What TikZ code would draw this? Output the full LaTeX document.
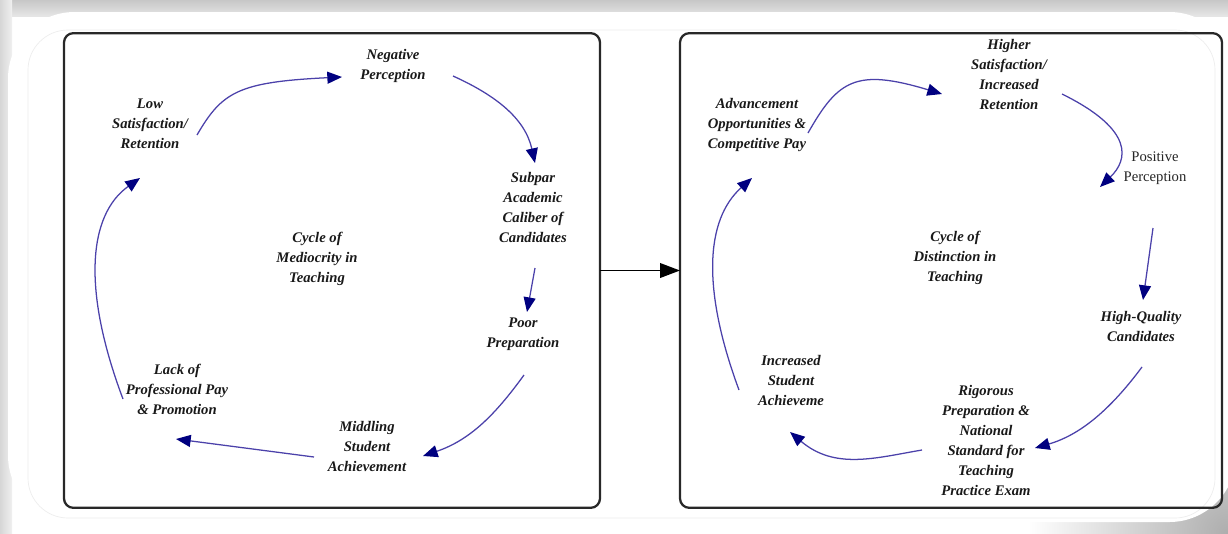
\documentclass[tikz,border=0pt]{standalone}
\usepackage{fontspec}
\setmainfont{Liberation Serif}
\usetikzlibrary{arrows.meta}
\definecolor{cycline}{RGB}{75,65,170}
\definecolor{cychead}{RGB}{0,0,128}
\definecolor{boxline}{RGB}{40,40,40}
\tikzset{
  lbl/.style={font=\bfseries\itshape\fontsize{11}{15}\selectfont, align=center, text=black!90, inner sep=1pt},
  plainlbl/.style={font=\fontsize{11}{15}\selectfont, align=center, text=black!85, inner sep=1pt},
  cyc/.style={draw=cycline, line width=0.95pt, -{Triangle[length=11pt,width=9pt,fill=cychead,color=cychead]}},
  panel/.style={draw=boxline, line width=1.7pt, rounded corners=7pt, inner sep=0pt, outer sep=0pt, minimum width=#1, minimum height=356pt},
}
\begin{document}
\begin{tikzpicture}[x=0.75pt,y=-0.75pt]
\useasboundingbox (0,0) rectangle (1228,533);
% background and frame
\fill[white] (0,0) rectangle (1228,533);
\begin{scope}
\clip (0,0) rectangle (1228,533);
\shade[inner color=black!32, outer color=white] (1228,533) circle (150pt);
\end{scope}
\shade[top color=black!22, bottom color=black!10] (0,0) rectangle (1228,16);
\shade[left color=black!16, right color=black!6] (0,0) rectangle (12,533);
\fill[white, rounded corners=50pt] (8,12) rectangle (1236,522);
\draw[black!7, line width=0.5pt, rounded corners=30pt] (28,30) rectangle (1215,518);
% boxes
\node[panel=402pt] (lbox) at (332,270.5) {};
\node[panel=406.5pt] (rbox) at (951,270.5) {};
\draw[black, line width=1.3pt, -{Triangle[length=15pt,width=11pt]}] (lbox.east) -- (rbox.west);
% left cycle
\node[lbl] (neg) at (393,66) {Negative\\Perception};
\node[lbl] (low) at (150,124) {Low\\Satisfaction/\\Retention};
\node[lbl] (sub) at (533,207) {Subpar\\Academic\\Caliber of\\Candidates};
\node[lbl] (cm) at (317,259) {Cycle of\\Mediocrity in\\Teaching};
\node[lbl] (poor) at (523,334) {Poor\\Preparation};
\node[lbl] (mid) at (367,446) {Middling\\Student\\Achievement};
\node[lbl] (lack) at (177,389) {Lack of\\Professional Pay\\\& Promotion};
\draw[cyc] ([shift={(47,11)}]low.center) .. controls (222,92) and (238,82) .. ([shift={(-51,11)}]neg.center);
\draw[cyc] ([shift={(60,10)}]neg.center) .. controls (495,95) and (525,118) .. ([shift={(2,-44)}]sub.center);
\draw[cyc] ([shift={(2,61)}]sub.center) -- ([shift={(4,-22)}]poor.center);
\draw[cyc] ([shift={(1,41)}]poor.center) .. controls (495,415) and (470,440) .. ([shift={(56,10)}]mid.center);
\draw[cyc] ([shift={(-53,11)}]mid.center) -- ([shift={(-1,50)}]lack.center);
\draw[cyc] ([shift={(-54,10)}]lack.center) .. controls (82,290) and (88,215) .. ([shift={(-10,54)}]low.center);
% right cycle
\node[lbl] (hig) at (1009,74) {Higher\\Satisfaction/\\Increased\\Retention};
\node[lbl] (adv) at (757,125) {Advancement\\Opportunities \&\\Competitive Pay};
\node[plainlbl] (pos) at (1155,168) {Positive\\Perception};
\node[lbl] (cd) at (955,258) {Cycle of\\Distinction in\\Teaching};
\node[lbl] (hq) at (1141,326) {High-Quality\\Candidates};
\node[lbl] (inc) at (791,380) {Increased\\Student\\Achieveme};
\node[lbl] (rig) at (986,440) {Rigorous\\Preparation \&\\National\\Standard for\\Teaching\\Practice Exam};
\draw[cyc] ([shift={(51,8)}]adv.center) .. controls (838,80) and (856,68) .. ([shift={(-67,20)}]hig.center);
\draw[cyc] ([shift={(53,20)}]hig.center) .. controls (1135,130) and (1128,160) .. ([shift={(-55,19)}]pos.center);
\draw[cyc] ([shift={(-2,60)}]pos.center) -- ([shift={(2,-26)}]hq.center);
\draw[cyc] ([shift={(1,41)}]hq.center) .. controls (1110,410) and (1080,435) .. ([shift={(49,8)}]rig.center);
\draw[cyc] ([shift={(-64,10)}]rig.center) .. controls (875,458) and (835,470) .. ([shift={(-1,52)}]inc.center);
\draw[cyc] ([shift={(-52,10)}]inc.center) .. controls (702,290) and (705,220) .. ([shift={(-5,53)}]adv.center);
\end{tikzpicture}
\end{document}
